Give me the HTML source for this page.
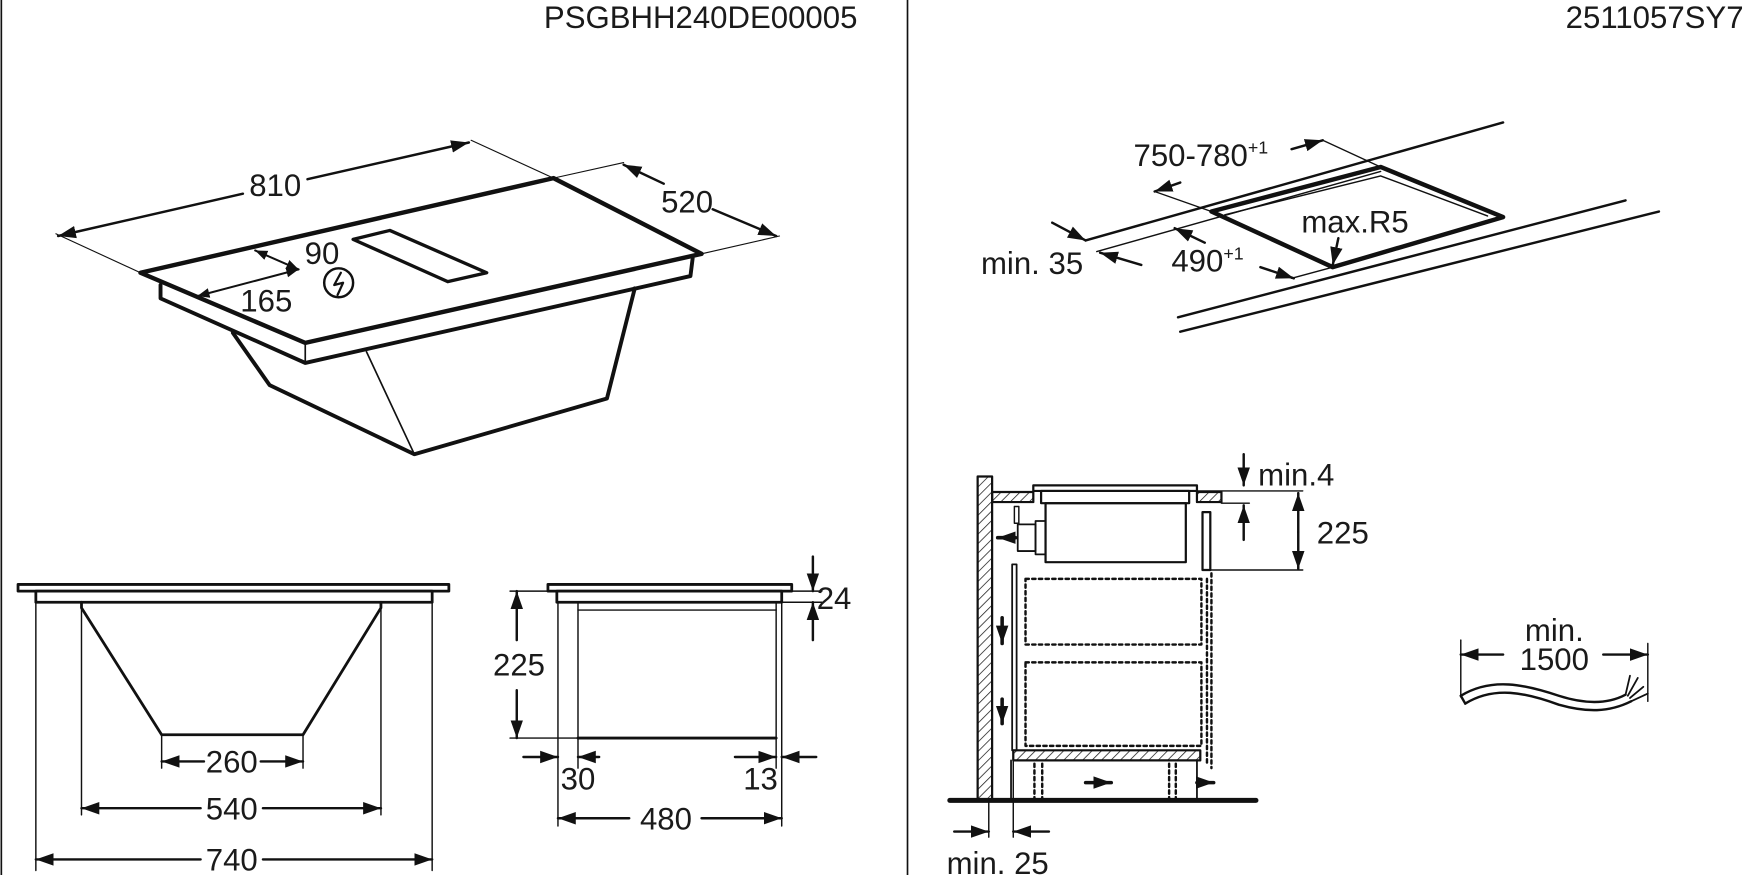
<!DOCTYPE html>
<html><head><meta charset="utf-8"><style>
html,body{margin:0;padding:0;background:#fff;}
svg{display:block;}
text{font-family:"Liberation Sans",Arial,sans-serif;fill:#1a1a1a;font-size:28px;}
</style></head><body>
<svg width="1746" height="875" viewBox="0 0 1568 786" xmlns="http://www.w3.org/2000/svg">
<defs>
<marker id="a" viewBox="0 0 10 10" refX="10" refY="5" markerWidth="11" markerHeight="11" markerUnits="userSpaceOnUse" orient="auto-start-reverse">
<path d="M0,1 L10,5 L0,9 z" fill="#111"/></marker>
<marker id="b" viewBox="0 0 10 10" refX="10" refY="5" markerWidth="16" markerHeight="16" markerUnits="userSpaceOnUse" orient="auto-start-reverse">
<path d="M0,1.5 L10,5 L0,8.5 z" fill="#111"/></marker>
<pattern id="h" width="6" height="6" patternUnits="userSpaceOnUse" patternTransform="rotate(45)">
<line x1="0" y1="0" x2="0" y2="6" stroke="#222" stroke-width="1.4"/></pattern>
</defs>
<g stroke="#111" fill="none" stroke-linecap="round" stroke-linejoin="round">
<line x1="1" y1="0" x2="1" y2="786" stroke-width="1.5"/>
<line x1="815" y1="0" x2="815" y2="786" stroke-width="1.5"/>

<polygon points="126,245 497,160 630,228 274,308" stroke-width="4" fill="#fff"/>
<polyline points="144,256 144,268 274,326 620,248 622,232" stroke-width="3.5"/>
<line x1="274" y1="308" x2="274" y2="326" stroke-width="1.5"/>
<polyline points="209,299 242,346 372,408 545,358 570,259" stroke-width="3.5"/>
<line x1="329" y1="316" x2="372" y2="408" stroke-width="1.5"/>
<polygon points="317,215 350,207 437,245 402,253" stroke-width="3"/>
<circle cx="304" cy="254" r="13" stroke-width="2.2"/>
<polyline points="306,245 300,256 308,254 303,265" stroke-width="2"/>
<line x1="229" y1="225" x2="268" y2="242" stroke-width="1.8" marker-start="url(#a)" marker-end="url(#a)"/>
<line x1="177" y1="266" x2="268" y2="242" stroke-width="1.8" marker-start="url(#a)" marker-end="url(#a)"/>
<line x1="126" y1="245" x2="50" y2="210" stroke-width="1"/>
<line x1="497" y1="160" x2="423" y2="126" stroke-width="1"/>
<line x1="52" y1="212" x2="218" y2="174" stroke-width="2.2" marker-start="url(#b)"/>
<line x1="276" y1="161" x2="421" y2="128" stroke-width="2.2" marker-end="url(#b)"/>
<line x1="497" y1="160" x2="560" y2="146" stroke-width="1"/>
<line x1="630" y1="228" x2="700" y2="212" stroke-width="1"/>
<line x1="560" y1="148" x2="596" y2="165" stroke-width="2.2" marker-start="url(#b)"/>
<line x1="640" y1="188" x2="697" y2="212" stroke-width="2.2" marker-end="url(#b)"/>

<rect x="16" y="525" width="387" height="6" stroke-width="2.5"/>
<rect x="32" y="531" width="356" height="10" stroke-width="2.5"/>
<polyline points="73,541 73,546 145,660 272,660 342,546 342,541" stroke-width="2.5"/>
<g stroke-width="1.3">
<line x1="32" y1="541" x2="32" y2="782"/><line x1="388" y1="541" x2="388" y2="782"/>
<line x1="73" y1="546" x2="73" y2="732"/><line x1="342" y1="546" x2="342" y2="732"/>
<line x1="145" y1="660" x2="145" y2="690"/><line x1="272" y1="660" x2="272" y2="690"/>
</g>
<g stroke-width="2.2">
<line x1="183" y1="684" x2="145" y2="684" marker-end="url(#b)"/><line x1="234" y1="684" x2="272" y2="684" marker-end="url(#b)"/>
<line x1="180" y1="726" x2="73" y2="726" marker-end="url(#b)"/><line x1="236" y1="726" x2="342" y2="726" marker-end="url(#b)"/>
<line x1="180" y1="772" x2="32" y2="772" marker-end="url(#b)"/><line x1="236" y1="772" x2="388" y2="772" marker-end="url(#b)"/>
</g>
<rect x="492" y="525" width="219" height="6" stroke-width="2.5"/>
<rect x="500" y="531" width="202" height="10" stroke-width="2.5"/>
<line x1="519" y1="548" x2="697" y2="548" stroke-width="1.3"/>
<line x1="519" y1="663" x2="697" y2="663" stroke-width="2.5"/>
<g stroke-width="1.3">
<line x1="501" y1="541" x2="501" y2="742"/><line x1="702" y1="541" x2="702" y2="742"/>
<line x1="519" y1="541" x2="519" y2="690"/><line x1="697" y1="541" x2="697" y2="690"/>
<line x1="458" y1="531" x2="500" y2="531"/><line x1="458" y1="663" x2="519" y2="663"/>
<line x1="711" y1="531" x2="738" y2="531"/><line x1="702" y1="541" x2="738" y2="541"/>
</g>
<g stroke-width="2.2">
<line x1="464" y1="575" x2="464" y2="531" marker-end="url(#b)"/><line x1="464" y1="620" x2="464" y2="663" marker-end="url(#b)"/>
<line x1="730" y1="500" x2="730" y2="531" marker-end="url(#b)"/><line x1="730" y1="575" x2="730" y2="541" marker-end="url(#b)"/>
<line x1="470" y1="680" x2="501" y2="680" marker-end="url(#b)"/><line x1="538" y1="680" x2="519" y2="680" marker-end="url(#b)"/>
<line x1="660" y1="680" x2="697" y2="680" marker-end="url(#b)"/><line x1="733" y1="680" x2="702" y2="680" marker-end="url(#b)"/>
<line x1="565" y1="735" x2="501" y2="735" marker-end="url(#b)"/><line x1="630" y1="735" x2="702" y2="735" marker-end="url(#b)"/>
</g>

<line x1="975" y1="216" x2="1350" y2="110" stroke-width="2.2"/>
<line x1="985" y1="226" x2="1240" y2="154" stroke-width="1.3"/>
<line x1="1058" y1="285" x2="1460" y2="180" stroke-width="2.2"/>
<line x1="1060" y1="298" x2="1490" y2="190" stroke-width="2.2"/>
<polygon points="1088,190 1240,150 1350,195 1197,240" stroke-width="4"/>
<polyline points="1100,193 1240,158 1336,194" stroke-width="1.3"/>
<line x1="1037" y1="172" x2="1088" y2="190" stroke-width="1.2"/>
<line x1="1188" y1="126" x2="1240" y2="150" stroke-width="1.2"/>
<line x1="1160" y1="250" x2="1197" y2="240" stroke-width="1.2"/>
<g stroke-width="2.2">
<line x1="1060" y1="164" x2="1037" y2="172" marker-end="url(#b)"/>
<line x1="1160" y1="134" x2="1188" y2="126" marker-end="url(#b)"/>
<line x1="945" y1="200" x2="975" y2="216" marker-end="url(#b)"/>
<line x1="1025" y1="238" x2="988" y2="227" marker-end="url(#b)"/>
<line x1="1082" y1="218" x2="1055" y2="205" marker-end="url(#b)"/>
<line x1="1132" y1="240" x2="1162" y2="250" marker-end="url(#b)"/>
<line x1="1202" y1="214" x2="1197" y2="238" marker-end="url(#b)"/>
</g>

<rect x="878" y="428" width="13" height="290" fill="url(#h)" stroke-width="2"/>
<line x1="853" y1="719" x2="1128" y2="719" stroke-width="4.5"/>
<rect x="891" y="442" width="37" height="9" fill="url(#h)" stroke-width="2"/>
<rect x="1075" y="442" width="22" height="9" fill="url(#h)" stroke-width="2"/>
<rect x="928" y="436" width="147" height="5" stroke-width="2"/>
<rect x="935" y="441" width="133" height="11" stroke-width="2"/>
<rect x="939" y="452" width="126" height="53" stroke-width="2"/>
<rect x="930" y="468" width="9" height="30" stroke-width="1.6"/>
<rect x="914" y="471" width="16" height="24" stroke-width="1.6"/>
<rect x="911" y="455" width="4" height="15" stroke-width="1.3"/>
<rect x="1080" y="460" width="7" height="52" stroke-width="2"/>
<rect x="909" y="507" width="4" height="167" stroke-width="1.6"/>
<rect x="910" y="674" width="168" height="9" fill="url(#h)" stroke-width="2"/>
<g stroke-width="2.2" stroke-dasharray="3,3">
<rect x="921" y="520" width="158" height="59"/><rect x="921" y="595" width="158" height="75"/>
<line x1="1084" y1="520" x2="1084" y2="686"/><line x1="1088" y1="515" x2="1088" y2="690"/>
<line x1="929" y1="686" x2="929" y2="718"/><line x1="936" y1="686" x2="936" y2="718"/>
<line x1="1050" y1="686" x2="1050" y2="718"/><line x1="1056" y1="686" x2="1056" y2="718"/>
</g>
<line x1="1075" y1="683" x2="1075" y2="718" stroke-width="1.6"/>
<line x1="908" y1="683" x2="908" y2="718" stroke-width="1.6"/>
<g stroke-width="3.2">
<line x1="912" y1="483" x2="896" y2="483" marker-end="url(#b)"/>
<line x1="900" y1="555" x2="900" y2="578" marker-end="url(#b)"/>
<line x1="900" y1="628" x2="900" y2="650" marker-end="url(#b)"/>
<line x1="975" y1="703" x2="998" y2="703" marker-end="url(#b)"/>
<line x1="1075" y1="703" x2="1090" y2="703" marker-end="url(#b)"/>
</g>
<g stroke-width="1.3">
<line x1="1075" y1="441" x2="1170" y2="441"/><line x1="1087" y1="512" x2="1170" y2="512"/>
<line x1="1097" y1="452" x2="1122" y2="452"/>
<line x1="888" y1="718" x2="888" y2="752"/><line x1="910" y1="683" x2="910" y2="752"/>
</g>
<g stroke-width="2.2">
<line x1="1117" y1="408" x2="1117" y2="436" marker-end="url(#b)"/>
<line x1="1117" y1="485" x2="1117" y2="454" marker-end="url(#b)"/>
<line x1="1166" y1="478" x2="1166" y2="443" marker-end="url(#b)"/><line x1="1166" y1="478" x2="1166" y2="511" marker-end="url(#b)"/>
<line x1="857" y1="747" x2="888" y2="747" marker-end="url(#b)"/>
<line x1="942" y1="747" x2="910" y2="747" marker-end="url(#b)"/>
</g>

<line x1="1312" y1="575" x2="1312" y2="626" stroke-width="1.3"/>
<line x1="1480" y1="578" x2="1480" y2="630" stroke-width="1.3"/>
<line x1="1350" y1="588" x2="1312" y2="588" stroke-width="2.2" marker-end="url(#b)"/>
<line x1="1440" y1="588" x2="1480" y2="588" stroke-width="2.2" marker-end="url(#b)"/>
<path d="M1312,625 C1340,608 1370,615 1400,625 C1425,633 1445,632 1460,624" stroke-width="2.2"/>
<path d="M1316,632 C1342,616 1370,622 1400,633 C1425,640 1445,640 1465,630" stroke-width="2.2"/>
<line x1="1312" y1="625" x2="1316" y2="632" stroke-width="2.2"/>
<path d="M1460,624 L1464,607 M1462,625 L1471,609 M1464,627 L1476,617 M1465,630 L1480,623" stroke-width="1.6"/>
</g>

<g>
<text x="770" y="25" text-anchor="end">PSGBHH240DE00005</text>
<text x="1566" y="25" text-anchor="end">2511057SY7</text>
<text x="247" y="176" text-anchor="middle">810</text>
<text x="617" y="191" text-anchor="middle">520</text>
<text x="289" y="237" text-anchor="middle">90</text>
<text x="239" y="280" text-anchor="middle">165</text>
<text x="208" y="694" text-anchor="middle">260</text>
<text x="208" y="736" text-anchor="middle">540</text>
<text x="208" y="782" text-anchor="middle">740</text>
<text x="466" y="607" text-anchor="middle">225</text>
<text x="749" y="547" text-anchor="middle">24</text>
<text x="519" y="709" text-anchor="middle">30</text>
<text x="683" y="709" text-anchor="middle">13</text>
<text x="598" y="745" text-anchor="middle">480</text>
<text x="1018" y="149">750-780<tspan font-size="16" dy="-11">+1</tspan></text>
<text x="881" y="246">min. 35</text>
<text x="1052" y="244">490<tspan font-size="16" dy="-11">+1</tspan></text>
<text x="1217" y="209" text-anchor="middle">max.R5</text>
<text x="1130" y="436">min.4</text>
<text x="1206" y="488" text-anchor="middle">225</text>
<text x="896" y="785" text-anchor="middle">min. 25</text>
<text x="1396" y="576" text-anchor="middle">min.</text>
<text x="1396" y="602" text-anchor="middle">1500</text>
</g>
</svg>
</body></html>
